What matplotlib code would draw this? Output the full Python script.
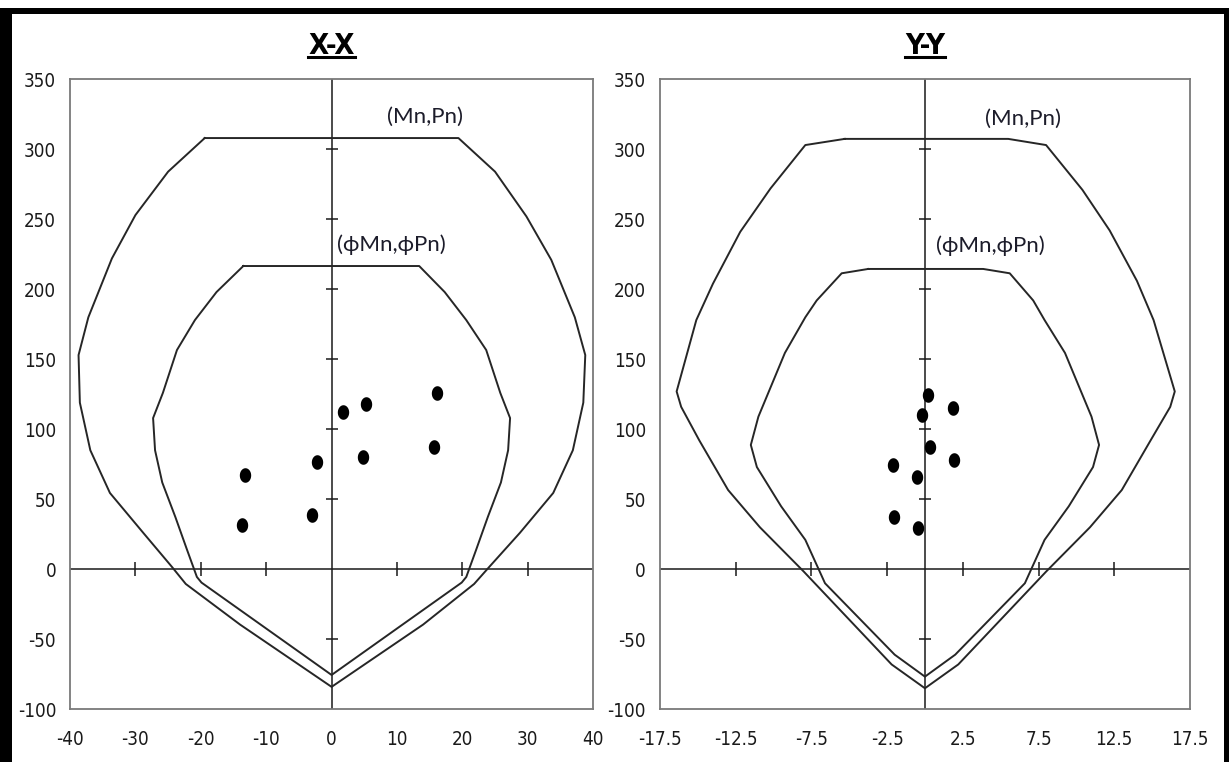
import matplotlib
matplotlib.use('Agg')
import matplotlib.pyplot as plt
import matplotlib.font_manager as fm
import numpy as np
from matplotlib.path import Path
from matplotlib.lines import Line2D
from matplotlib.transforms import IdentityTransform

# the sheet uses an Arial Narrow look; take the narrowest sans that is installed
names = set(f.name for f in fm.fontManager.ttflist)
stretch = 'normal'
if 'Liberation Sans Narrow' in names:
    narrow = 'Liberation Sans Narrow'
elif 'Arial Narrow' in names:
    narrow = 'Arial Narrow'
elif any(f.name == 'DejaVu Sans' and f.stretch in ('condensed', 'semi-condensed')
         for f in fm.fontManager.ttflist):
    narrow = 'DejaVu Sans'
    stretch = 'condensed'
else:
    narrow = 'Liberation Sans'
plt.rcParams['font.family'] = [narrow, 'DejaVu Sans']
plt.rcParams['font.stretch'] = stretch
plt.rcParams['axes.unicode_minus'] = False

# ---- X-X interaction diagram (Mn, Pn) / (phi Mn, phi Pn) ----
xx_outer_m = [-19.4, -25, -30, -33.6, -37.2, -38.7, -38.5, -36.9, -33.9, -28.8, -24.4, -22.3, -14, 0,
              14, 21.8, 24.1, 28.8, 33.9, 36.9, 38.5, 38.8, 37.2, 33.6, 29.8, 25, 19.4, -19.4]
xx_outer_p = [308, 284, 253, 222, 180, 153, 119, 85, 54.5, 26, 1.6, -10.5, -39.5, -84,
              -39.5, -10.5, 1.6, 26, 54.5, 85, 119, 153, 180, 221, 252, 284, 308, 308]
xx_inner_m = [-13.5, -17.6, -20.9, -23.65, -25.8, -27.3, -27, -25.9, -23.9, -22.1, -20.6, -19.9, 0,
              19.9, 20.6, 22.1, 23.9, 25.9, 27, 27.3, 25.8, 23.65, 20.6, 17.3, 13.4, -13.5]
xx_inner_p = [216.6, 198, 178, 156.6, 126, 108, 85, 62, 37.4, 13.8, -5.5, -9.5, -75.5,
              -9.5, -5.5, 13.8, 37.4, 62, 85, 108, 126, 156.6, 178, 198, 216.6, 216.6]
xx_load_m = [16.1, 5.3, 1.7, 15.6, 4.8, -2.3, -13.2, -3.0, -13.7]
xx_load_p = [125.7, 117.9, 112.6, 87.5, 79.9, 76.4, 67.6, 38.9, 31.4]

# ---- Y-Y interaction diagram ----
yy_outer_m = [-5.3, -7.9, -10.2, -12.2, -14, -15.1, -16.4, -16.1, -14.9, -13, -10.9, -8.0, -2.2, 0,
              2.2, 8.0, 10.9, 13, 14.9, 16.2, 16.5, 15.1, 14, 12.2, 10.4, 8.0, 5.5, -5.3]
yy_outer_p = [307.4, 303, 272, 241, 204, 178, 127, 116, 92, 56.6, 30, -1.7, -68, -85,
              -68, -1.7, 30, 56.6, 92, 116, 127, 178, 206, 242, 271, 303, 307.4, 307.4]
yy_inner_m = [-3.75, -5.5, -7.15, -7.9, -9.25, -11, -11.5, -11.1, -9.5, -7.9, -6.6, -2.0, 0,
              2.0, 6.6, 7.9, 9.5, 11.1, 11.5, 11, 9.25, 7.9, 7.15, 5.6, 3.85, -3.75]
yy_inner_p = [214.5, 211.4, 192, 180, 154.5, 109, 88.8, 73, 45, 21, -10, -61, -76.7,
              -61, -10, 21, 45, 73, 88.8, 109, 154.5, 178, 192, 211.4, 214.5, 214.5]
yy_load_m = [0.22, -0.22, 1.83, 0.33, 1.92, -2.13, -0.53, -2.05, -0.46]
yy_load_p = [124.5, 110.2, 115.2, 87.4, 78.1, 74.5, 66.1, 37.6, 29.5]

xx_xticks = [-40, -30, -20, -10, 0, 10, 20, 30, 40]
yy_xticks = [-17.5, -12.5, -7.5, -2.5, 2.5, 7.5, 12.5, 17.5]
p_ticks = [-100, -50, 0, 50, 100, 150, 200, 250, 300, 350]

fig = plt.figure(figsize=(12.29, 7.62), dpi=100)

# slightly tall elliptical dot, like in the original sheet
th = np.linspace(0, 2 * np.pi, 41)
dot = Path(np.column_stack([0.78 * np.cos(th), np.sin(th)]))


def draw_panel(rect, title, xticks, xlim, outer, inner, loads, lbl_out, lbl_in):
    ax = fig.add_axes(rect)
    ax.set_xlim(xlim)
    ax.set_ylim(-100, 350)
    for s in ax.spines.values():
        s.set_color('#7a7a7a')
        s.set_linewidth(1.3)
    ax.set_xticks(xticks)
    ax.set_xticklabels([('%g' % t) for t in xticks])
    ax.set_yticks(p_ticks)
    ax.tick_params(axis='both', length=0, labelsize=13.5, colors='#1a1a1a')
    ax.tick_params(axis='x', pad=15)
    ax.tick_params(axis='y', pad=10)

    # axes through origin with little cross ticks
    ax.axhline(0, color='#1a1a1a', lw=1.1, zorder=2)
    ax.axvline(0, color='#1a1a1a', lw=1.1, zorder=2)
    inner_x = [t for t in xticks if t != 0 and xlim[0] < t < xlim[1]]
    inner_y = [t for t in p_ticks if t != 0 and -100 < t < 350]
    ax.plot(inner_x, [0] * len(inner_x), ls='none', marker='|', ms=10, mew=1.1, color='#1a1a1a')
    ax.plot([0] * len(inner_y), inner_y, ls='none', marker='_', ms=9, mew=1.1, color='#1a1a1a')

    ax.plot(outer[0], outer[1], color='#262626', lw=1.4, zorder=3)
    ax.plot(inner[0], inner[1], color='#262626', lw=1.4, zorder=3)
    ax.plot(loads[0], loads[1], ls='none', marker=dot, ms=10.5, mfc='black', mec='black', mew=0, zorder=4)

    lab = dict(ha='center', va='center', fontsize=16, color='#1c1c2a',
               family=['Lato', 'Noto Sans', 'DejaVu Sans'], stretch='normal')
    ax.text(lbl_out[0], lbl_out[1], '(Mn,Pn)', **lab)
    ax.text(lbl_in[0], lbl_in[1], '(\u03d5Mn,\u03d5Pn)', **lab)

    t = ax.set_title(title, fontsize=21, fontweight='bold', pad=18, color='black')
    return ax, t


ax1, t1 = draw_panel([0.0570, 0.0692, 0.4256, 0.8268], 'X-X', xx_xticks, (-40, 40),
                     (xx_outer_m, xx_outer_p), (xx_inner_m, xx_inner_p), (xx_load_m, xx_load_p),
                     (14.3, 323), (9.1, 232))
ax2, t2 = draw_panel([0.5370, 0.0692, 0.4312, 0.8268], 'Y-Y', yy_xticks, (-17.5, 17.5),
                     (yy_outer_m, yy_outer_p), (yy_inner_m, yy_inner_p), (yy_load_m, yy_load_p),
                     (6.5, 322), (4.3, 231))

# underline the titles
fig.canvas.draw()
r = fig.canvas.get_renderer()
for t in (t1, t2):
    bb = t.get_window_extent(r)
    fig.add_artist(Line2D([bb.x0, bb.x1], [bb.y0 + 3, bb.y0 + 3], transform=IdentityTransform(),
                          color='black', lw=2.2))

# thick black frame of the screenshot
fig.add_artist(plt.Rectangle((0, 0), 12 / 1229, 1 - 8 / 762, transform=fig.transFigure,
                             color='black', lw=0))
fig.add_artist(plt.Rectangle((0, 1 - 14 / 762), 1, 6 / 762, transform=fig.transFigure,
                             color='black', lw=0))
fig.add_artist(plt.Rectangle((1224 / 1229, 0), 5 / 1229, 1 - 8 / 762, transform=fig.transFigure,
                             color='black', lw=0))

fig.savefig('out.png', dpi=100)
